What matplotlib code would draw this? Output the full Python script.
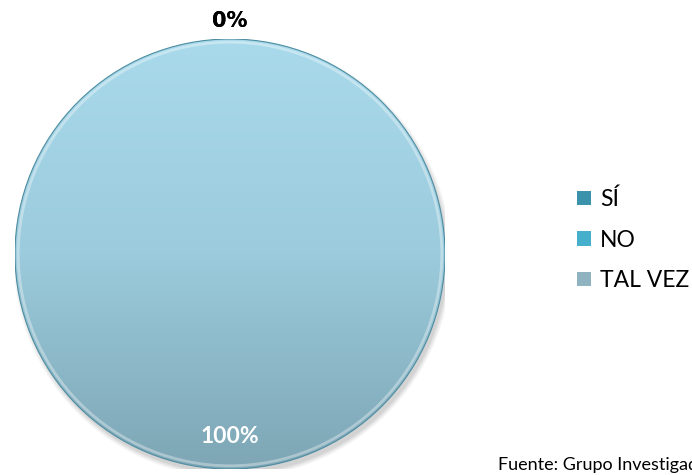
import matplotlib.pyplot as plt
import numpy as np
from matplotlib.colors import LinearSegmentedColormap
from matplotlib.patches import Circle

categorias = ['SÍ', 'NO', 'TAL VEZ']
porcentajes = [0, 0, 100]
colores = ['#3a93ab', '#46b0cc', '#8fb3c1']
fuente = 'Fuente: Grupo Investigador'


def generate_plot():
    fig = plt.figure(figsize=(6.92, 4.75), dpi=100)
    # pie centered at (230, 254) px, radius ~215 px
    ax = fig.add_axes([15 / 692, 6 / 475, 430 / 692, 430 / 475])

    # soft shadow at the lower right
    for i, a in enumerate([0.05, 0.05, 0.06, 0.08]):
        ax.add_patch(Circle((0.012, -0.022), 1.0 + 0.006 * (3 - i),
                            color='#404040', alpha=a, lw=0, zorder=0))

    wedges, _ = ax.pie(porcentajes, colors=colores, startangle=90,
                       counterclock=False, radius=1.0,
                       wedgeprops=dict(linewidth=0))

    # vertical gradient fill for the slices
    cmap = LinearSegmentedColormap.from_list('g', ['#a9daec', '#9bcbdc',
                                                   '#7ea6b5'])
    grad = np.linspace(0, 1, 256).reshape(-1, 1)
    for w, v in zip(wedges, porcentajes):
        if v == 0:
            continue
        im = ax.imshow(grad, extent=[-1, 1, -1, 1], cmap=cmap,
                       origin='upper', aspect='auto', zorder=2)
        im.set_clip_path(w)

    ax.add_patch(Circle((0, 0), 0.985, fill=False, ec='white', alpha=0.35,
                        lw=2.0, zorder=3))
    ax.add_patch(Circle((0, 0), 1.0, fill=False, ec='#4f8ea2', lw=0.8,
                        zorder=3))

    for w, v in zip(wedges, porcentajes):
        ang = np.deg2rad((w.theta1 + w.theta2) / 2)
        if v == 0:
            r = 1.085
            ax.text(r * np.cos(ang), r * np.sin(ang), f'{v}%',
                    ha='center', va='center', fontsize=15,
                    fontweight='heavy', family='DejaVu Sans', color='black',
                    clip_on=False, zorder=4)
        else:
            r = 0.85
            ax.text(r * np.cos(ang), r * np.sin(ang), f'{v}%',
                    ha='center', va='center', fontsize=16.5,
                    fontweight='bold', family='Lato', color='white',
                    zorder=4)

    ax.set_xlim(-1, 1)
    ax.set_ylim(-1, 1)
    ax.set_aspect('equal')
    ax.axis('off')

    fig.legend(wedges, categorias, loc='center left',
               bbox_to_anchor=(577 / 692, (475 - 240) / 475),
               frameon=False, prop=dict(family='Lato', size=16.5),
               handlelength=0.6, handleheight=0.6, handletextpad=0.4,
               labelspacing=0.85, borderpad=0, borderaxespad=0)

    fig.text(498 / 692, 1 - 465 / 475, fuente, ha='left', va='center',
             fontsize=13, family='Lato', color='black')

    fig.savefig('out.png', dpi=100)


if __name__ == '__main__':
    generate_plot()
